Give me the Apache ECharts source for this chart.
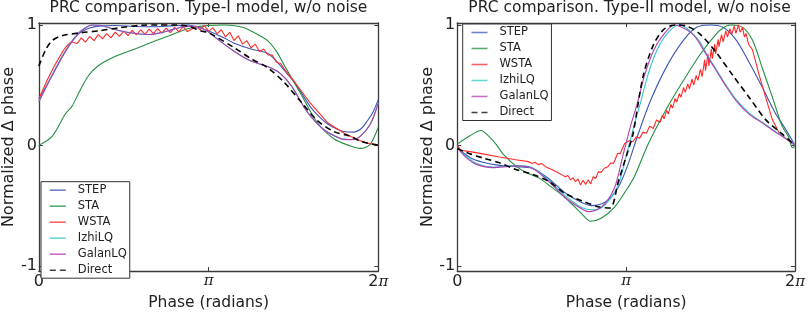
<!DOCTYPE html>
<html><head><meta charset="utf-8">
<script src="https://cdn.jsdelivr.net/npm/echarts@6/dist/echarts.min.js"></script>
<style>html,body{margin:0;padding:0;background:#fff}#c{width:808px;height:316px}</style>
</head><body><div id="c"></div>
<script>
// ---------- data (x in units of pi, 0..2) ----------
const seriesNames = ['STEP','STA','WSTA','IzhiLQ','GalanLQ','Direct'];
const titles = ['PRC comparison. Type-I model, w/o noise','PRC comparison. Type-II model, w/o noise'];
const xTicks = [0,1,2];
const xTickLabels = ['0','π','2π'];
const yTicks = [-1,0,1];
const yTickLabels = ['-1','0','1'];

// Type-I (left)
const leftSTEP = [[0,0.385],[0.078,0.58],[0.156,0.78],[0.214,0.90],[0.254,0.945],[0.3,0.975],[0.352,0.99],[0.45,0.995],[0.566,0.987],[0.68,0.985],[0.76,0.99],[0.88,1.0],[0.93,0.985],[1.0,0.95],[1.08,0.90],[1.152,0.848],[1.25,0.80],[1.348,0.765],[1.406,0.69],[1.46,0.6],[1.504,0.525],[1.55,0.43],[1.60,0.32],[1.65,0.24],[1.70,0.18],[1.75,0.14],[1.796,0.115],[1.856,0.11],[1.9,0.14],[1.934,0.2],[1.97,0.28],[2.0,0.38]];
const leftSTA = [[0,0.0],[0.078,0.075],[0.156,0.26],[0.196,0.326],[0.234,0.433],[0.292,0.578],[0.352,0.663],[0.448,0.737],[0.546,0.79],[0.742,0.897],[0.898,0.976],[1.0,0.995],[1.1,1.0],[1.2,0.98],[1.25,0.95],[1.348,0.87],[1.4,0.78],[1.444,0.67],[1.542,0.43],[1.64,0.19],[1.738,0.055],[1.836,-0.005],[1.894,-0.025],[1.92,-0.02],[1.954,0.01],[2.0,0.15]];
const leftWSTA = [[0,0.39],[0.02,0.45],[0.03,0.46],[0.045,0.53],[0.055,0.535],[0.07,0.6],[0.08,0.605],[0.095,0.67],[0.105,0.675],[0.12,0.73],[0.13,0.735],[0.145,0.79],[0.155,0.785],[0.17,0.835],[0.18,0.82],[0.19,0.86],[0.2,0.875],[0.225,0.845],[0.25,0.892],[0.275,0.858],[0.3,0.905],[0.325,0.87],[0.35,0.92],[0.375,0.884],[0.4,0.928],[0.425,0.892],[0.45,0.94],[0.475,0.905],[0.5,0.948],[0.525,0.911],[0.55,0.954],[0.575,0.917],[0.6,0.96],[0.625,0.922],[0.65,0.965],[0.675,0.927],[0.7,0.969],[0.725,0.932],[0.75,0.973],[0.775,0.936],[0.8,0.979],[0.825,0.942],[0.85,0.985],[0.875,0.945],[0.9,0.964],[0.925,0.99],[0.95,0.96],[0.975,0.995],[1.0,0.948],[1.025,0.976],[1.05,0.927],[1.075,0.96],[1.1,0.90],[1.125,0.94],[1.15,0.87],[1.175,0.91],[1.2,0.84],[1.225,0.87],[1.25,0.81],[1.275,0.84],[1.3,0.78],[1.325,0.80],[1.35,0.75],[1.375,0.75],[1.4,0.69],[1.425,0.68],[1.45,0.625],[1.5,0.54],[1.542,0.46],[1.6,0.35],[1.64,0.286],[1.7,0.19],[1.738,0.154],[1.8,0.10],[1.836,0.075],[1.9,0.035],[1.934,0.02],[2.0,0.0]];
const leftIzhiLQ = [[0,0.365],[0.078,0.585],[0.156,0.785],[0.234,0.932],[0.28,0.982],[0.315,1.0],[0.37,0.994],[0.43,0.968],[0.5,0.944],[0.566,0.929],[0.644,0.92],[0.7,0.93],[0.76,0.95],[0.82,0.975],[0.88,0.99],[0.956,0.974],[1.0,0.94],[1.054,0.88],[1.152,0.78],[1.25,0.70],[1.348,0.655],[1.42,0.6],[1.49,0.49],[1.58,0.28],[1.68,0.13],[1.78,0.056],[1.82,0.049],[1.856,0.051],[1.894,0.076],[1.954,0.18],[2.0,0.355]];
const leftGalanLQ = [[0,0.36],[0.078,0.58],[0.156,0.78],[0.234,0.93],[0.28,0.98],[0.312,1.0],[0.37,0.995],[0.43,0.97],[0.5,0.945],[0.566,0.93],[0.644,0.92],[0.7,0.93],[0.76,0.95],[0.82,0.975],[0.88,0.99],[0.956,0.975],[1.0,0.94],[1.054,0.88],[1.152,0.78],[1.25,0.70],[1.348,0.655],[1.42,0.6],[1.49,0.49],[1.58,0.28],[1.68,0.13],[1.78,0.055],[1.82,0.048],[1.856,0.05],[1.894,0.075],[1.954,0.18],[2.0,0.35]];
const leftDirect = [[0,0.658],[0.039,0.79],[0.078,0.87],[0.136,0.91],[0.254,0.936],[0.352,0.95],[0.468,0.976],[0.606,0.997],[0.7,1.0],[0.8,1.0],[0.88,0.99],[0.956,0.95],[1.0,0.935],[1.152,0.81],[1.25,0.72],[1.348,0.645],[1.444,0.525],[1.542,0.366],[1.64,0.207],[1.738,0.115],[1.836,0.075],[1.894,0.035],[1.972,0.008],[2.0,0.0]];

// Type-II (right)
const rightSTEP = [[0,-0.02],[0.074,-0.1],[0.152,-0.14],[0.25,-0.166],[0.346,-0.177],[0.444,-0.19],[0.542,-0.277],[0.64,-0.396],[0.736,-0.475],[0.794,-0.50],[0.872,-0.475],[0.95,-0.356],[1.008,-0.17],[1.068,0.08],[1.144,0.37],[1.242,0.66],[1.34,0.874],[1.418,0.98],[1.496,1.0],[1.574,0.98],[1.652,0.874],[1.728,0.69],[1.808,0.478],[1.884,0.267],[1.944,0.135],[2.0,0.0]];
const rightSTA = [[0,0.01],[0.07,0.075],[0.14,0.124],[0.19,0.07],[0.235,0.0],[0.27,-0.07],[0.346,-0.17],[0.406,-0.224],[0.482,-0.27],[0.542,-0.33],[0.64,-0.435],[0.736,-0.567],[0.79,-0.63],[0.852,-0.605],[0.93,-0.515],[1.008,-0.356],[1.052,-0.25],[1.13,0.01],[1.242,0.31],[1.34,0.54],[1.436,0.75],[1.534,0.925],[1.58,0.98],[1.62,1.0],[1.69,0.98],[1.748,0.874],[1.808,0.636],[1.866,0.40],[1.924,0.16],[1.962,0.07],[1.985,-0.02],[2.0,-0.01]];
const rightWSTA = [[0,0.0],[0.02,-0.04],[0.074,-0.052],[0.152,-0.071],[0.25,-0.097],[0.346,-0.119],[0.42,-0.135],[0.444,-0.15],[0.46,-0.14],[0.48,-0.16],[0.5,-0.15],[0.52,-0.175],[0.542,-0.19],[0.56,-0.20],[0.58,-0.215],[0.6,-0.23],[0.62,-0.245],[0.64,-0.26],[0.655,-0.25],[0.67,-0.285],[0.685,-0.27],[0.7,-0.30],[0.715,-0.28],[0.73,-0.33],[0.745,-0.29],[0.76,-0.325],[0.775,-0.285],[0.79,-0.32],[0.805,-0.26],[0.82,-0.275],[0.835,-0.22],[0.852,-0.224],[0.87,-0.19],[0.89,-0.18],[0.91,-0.145],[0.925,-0.15],[0.95,-0.066],[0.965,-0.07],[0.99,0.013],[1.0,0.005],[1.02,0.04],[1.04,0.03],[1.06,0.07],[1.08,0.06],[1.10,0.11],[1.12,0.10],[1.14,0.16],[1.16,0.14],[1.18,0.21],[1.2,0.19],[1.215,0.25],[1.225,0.22],[1.24,0.29],[1.25,0.26],[1.265,0.34],[1.275,0.31],[1.29,0.39],[1.30,0.36],[1.315,0.43],[1.325,0.40],[1.34,0.48],[1.35,0.44],[1.365,0.51],[1.375,0.47],[1.39,0.55],[1.40,0.50],[1.415,0.58],[1.425,0.54],[1.44,0.63],[1.45,0.57],[1.465,0.71],[1.47,0.62],[1.485,0.76],[1.49,0.66],[1.505,0.80],[1.51,0.72],[1.525,0.84],[1.53,0.76],[1.545,0.88],[1.55,0.82],[1.565,0.92],[1.575,0.86],[1.59,0.95],[1.60,0.90],[1.615,0.97],[1.625,0.92],[1.64,0.99],[1.65,0.93],[1.665,1.0],[1.675,0.94],[1.69,0.98],[1.70,0.9],[1.71,0.93],[1.725,0.84],[1.748,0.795],[1.788,0.584],[1.826,0.40],[1.866,0.214],[1.904,0.108],[1.944,0.06],[2.0,0.0]];
const rightIzhiLQ = [[0,-0.02],[0.06,-0.1],[0.114,-0.15],[0.21,-0.18],[0.3,-0.172],[0.346,-0.168],[0.444,-0.185],[0.542,-0.29],[0.64,-0.42],[0.736,-0.515],[0.8,-0.535],[0.87,-0.5],[0.95,-0.34],[1.0,-0.09],[1.048,0.17],[1.088,0.37],[1.126,0.57],[1.164,0.73],[1.204,0.85],[1.244,0.93],[1.28,0.98],[1.31,1.0],[1.35,0.98],[1.40,0.92],[1.436,0.86],[1.476,0.76],[1.534,0.63],[1.592,0.50],[1.652,0.38],[1.728,0.27],[1.808,0.19],[1.884,0.115],[1.94,0.062],[2.0,0.0]];
const rightGalanLQ = [[0,-0.02],[0.06,-0.11],[0.114,-0.158],[0.21,-0.185],[0.3,-0.175],[0.346,-0.17],[0.444,-0.19],[0.542,-0.30],[0.64,-0.435],[0.736,-0.527],[0.776,-0.55],[0.852,-0.515],[0.93,-0.356],[0.98,-0.09],[1.028,0.17],[1.068,0.356],[1.106,0.568],[1.144,0.726],[1.184,0.845],[1.224,0.924],[1.26,0.98],[1.29,1.0],[1.33,0.98],[1.38,0.94],[1.418,0.884],[1.476,0.75],[1.534,0.62],[1.592,0.49],[1.652,0.37],[1.728,0.26],[1.808,0.185],[1.884,0.11],[1.94,0.06],[2.0,0.0]];
const rightDirect = [[0,-0.026],[0.074,-0.07],[0.152,-0.105],[0.25,-0.145],[0.346,-0.2],[0.444,-0.24],[0.542,-0.30],[0.64,-0.40],[0.736,-0.46],[0.834,-0.51],[0.904,-0.52],[0.954,-0.30],[1.012,-0.04],[1.04,0.09],[1.1,0.57],[1.16,0.83],[1.22,0.96],[1.27,0.995],[1.30,1.0],[1.36,0.99],[1.436,0.926],[1.534,0.77],[1.632,0.58],[1.728,0.40],[1.826,0.214],[1.924,0.095],[2.0,0.0]];

const panels = [
  [leftSTEP, leftSTA, leftWSTA, leftIzhiLQ, leftGalanLQ, leftDirect],
  [rightSTEP, rightSTA, rightWSTA, rightIzhiLQ, rightGalanLQ, rightDirect]
];

// ---------- styling ----------
const FONT = 'DejaVu Sans';
const TXT = '#222';
const FRAME = '#3a3a3a';
const colors = ['#3b57b5','#22903f','#ff2a2a','#2fc9c9','#b13fb1','#000000'];
const grids = [
  {left:36.7, top:23, width:341.6, height:260},
  {left:457.3, top:23, width:342.4, height:260}
];
const Y_MIN = -1.044, Y_MAX = 1.016;

const xAxes = [], yAxes = [], series = [], legends = [], graphics = [];
const tickStyle = {inside:true, length:4, lineStyle:{color:FRAME, width:1}};
const lineStyleFrame = {onZero:false, lineStyle:{color:FRAME, width:1.3}};

grids.forEach((g, gi) => {
  xAxes.push({
    gridIndex:gi, type:'value', min:0, max:2, interval:1, position:'bottom',
    axisLine:lineStyleFrame, axisTick:tickStyle, splitLine:{show:false},
    axisLabel:{
      margin:3, color:TXT, fontFamily:FONT, fontSize:16,
      formatter: v => {
        const i = xTicks.indexOf(Math.round(v*1000)/1000);
        const s = i >= 0 ? xTickLabels[i] : '';
        return s.replace('2π','{n|2}{p|π}').replace(/^π$/,'{p|π}');
      },
      rich:{
        n:{fontFamily:FONT, fontSize:16, color:TXT},
        p:{fontFamily:'DejaVu Serif', fontStyle:'italic', fontSize:15, color:TXT}
      }
    },
    name:'Phase (radians)', nameLocation:'middle', nameGap:19,
    nameTextStyle:{fontFamily:FONT, fontSize:15.5, color:TXT}
  });
  xAxes.push({
    gridIndex:gi, type:'value', min:0, max:2, interval:1, position:'top',
    axisLine:lineStyleFrame, axisTick:tickStyle, splitLine:{show:false}, axisLabel:{show:false}
  });
  yAxes.push({
    gridIndex:gi, type:'value', min:Y_MIN, max:Y_MAX, position:'left',
    axisLine:lineStyleFrame,
    axisTick:Object.assign({customValues:yTicks}, tickStyle),
    splitLine:{show:false},
    axisLabel:{customValues:yTicks, margin:2, color:TXT, fontFamily:FONT, fontSize:16,
      formatter: v => { const i = yTicks.indexOf(Math.round(v)); return i>=0 ? yTickLabels[i] : ''; }},
    name:'Normalized Δ phase', nameLocation:'middle', nameGap:18,
    nameTextStyle:{fontFamily:FONT, fontSize:16, color:TXT}
  });
  yAxes.push({
    gridIndex:gi, type:'value', min:Y_MIN, max:Y_MAX, position:'right',
    axisLine:lineStyleFrame,
    axisTick:Object.assign({customValues:yTicks}, tickStyle),
    splitLine:{show:false}, axisLabel:{show:false}
  });
  panels[gi].forEach((d, si) => {
    const isDirect = seriesNames[si] === 'Direct';
    const isW = seriesNames[si] === 'WSTA';
    series.push({
      type:'line', name:seriesNames[si], data:d,
      xAxisIndex:gi*2, yAxisIndex:gi*2,
      symbol:'none', smooth: isW ? false : 0.3,
      color:colors[si],
      lineStyle:{color:colors[si], width: isDirect ? 1.6 : 1.1, type: isDirect ? [6,4] : 'solid'},
      emphasis:{disabled:true}, animation:false, z: 2 + si
    });
  });
  graphics.push({
    type:'text', x: g.left + g.width/2 + 1, y: 8,
    style:{text:titles[gi], textAlign:'center', textVerticalAlign:'middle',
      fontFamily:FONT, fontSize:15.5, fill:TXT}
  });
});

const legendCommon = {
  orient:'vertical', data:seriesNames, itemWidth:16, itemHeight:14, itemGap:2,
  padding:[1.5,3,1,8], borderColor:'#333', borderWidth:1, backgroundColor:'#fff',
  itemStyle:{opacity:0},
  lineStyle:{width:1.6, opacity:0.75},
  textStyle:{fontFamily:FONT, fontSize:11.5, color:TXT, lineHeight:14, padding:[0,0,0,7]},
  selectedMode:false, z:20
};
legends.push(Object.assign({left:41, top:181.7}, legendCommon));
legends.push(Object.assign({left:462.7, top:24}, legendCommon));

const chart = echarts.init(document.getElementById('c'), null, {renderer:'canvas'});
chart.setOption({
  animation:false,
  backgroundColor:'#fff',
  grid: grids.map(g => Object.assign({containLabel:false}, g)),
  xAxis:xAxes, yAxis:yAxes, series:series, legend:legends, graphic:graphics
});
</script></body></html>
